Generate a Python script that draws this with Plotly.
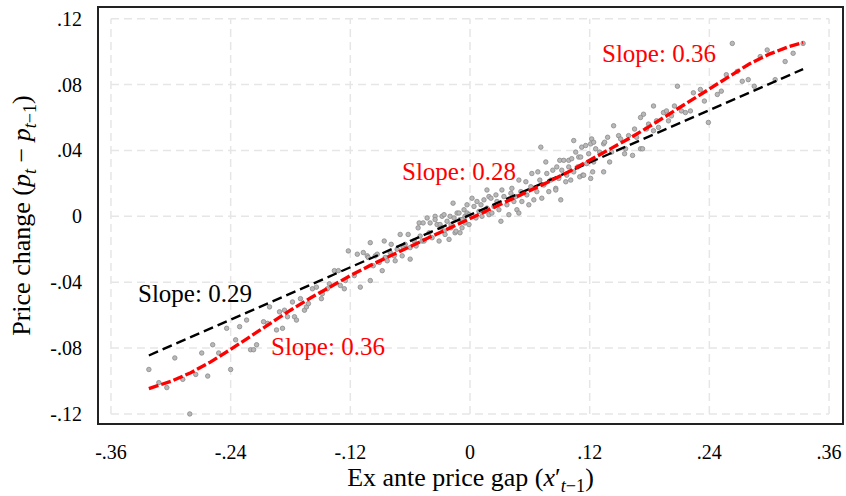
import plotly.graph_objects as go

# ---------------- data ----------------
# scatter observations: (ex ante price gap, price change)
obs_pairs = [
    (-0.322, -0.093), (-0.312, -0.101), (-0.304, -0.104), (-0.296, -0.086), (-0.288, -0.099),
    (-0.281, -0.120), (-0.275, -0.096), (-0.269, -0.083), (-0.263, -0.097), (-0.258, -0.078),
    (-0.252, -0.083), (-0.244, -0.068), (-0.240, -0.093), (-0.235, -0.075), (-0.231, -0.067),
    (-0.224, -0.063), (-0.220, -0.081), (-0.217, -0.081), (-0.214, -0.078), (-0.207, -0.064),
    (-0.203, -0.065), (-0.201, -0.055), (-0.194, -0.069), (-0.191, -0.058), (-0.188, -0.068),
    (-0.186, -0.057), (-0.183, -0.061), (-0.178, -0.052), (-0.176, -0.061), (-0.174, -0.063),
    (-0.170, -0.050), (-0.166, -0.057), (-0.164, -0.055), (-0.162, -0.053), (-0.158, -0.044),
    (-0.154, -0.043), (-0.149, -0.050), (-0.148, -0.047), (-0.143, -0.044), (-0.141, -0.041),
    # central region, left half
    (-0.136, -0.033), (-0.132, -0.033), (-0.130, -0.042), (-0.126, -0.044), (-0.125, -0.039),
    (-0.122, -0.021), (-0.116, -0.036), (-0.113, -0.023), (-0.110, -0.043), (-0.107, -0.022),
    (-0.103, -0.024), (-0.102, -0.025), (-0.100, -0.039), (-0.100, -0.016), (-0.097, -0.030),
    (-0.095, -0.024), (-0.093, -0.023), (-0.091, -0.028), (-0.088, -0.033), (-0.086, -0.015),
    (-0.085, -0.025), (-0.083, -0.027), (-0.080, -0.022), (-0.079, -0.017), (-0.076, -0.024),
    (-0.075, -0.027), (-0.073, -0.020), (-0.070, -0.011), (-0.068, -0.024), (-0.067, -0.019),
    (-0.065, -0.017), (-0.062, -0.011), (-0.060, -0.026), (-0.060, -0.019), (-0.056, -0.015),
    (-0.054, -0.018), (-0.052, -0.007), (-0.051, -0.004), (-0.050, -0.012), (-0.048, -0.015),
    (-0.047, -0.004), (-0.046, -0.015), (-0.043, -0.001), (-0.041, -0.010), (-0.040, -0.004),
    (-0.038, -0.013), (-0.035, 0.000), (-0.035, -0.002), (-0.033, -0.005), (-0.031, -0.015),
    (-0.030, -0.005), (-0.029, -0.007), (-0.028, 0.000), (-0.026, 0.001), (-0.026, -0.009),
    (-0.025, -0.011), (-0.023, -0.003), (-0.021, -0.014), (-0.020, 0.000), (-0.019, -0.007),
    (-0.019, -0.005), (-0.017, 0.008), (-0.016, -0.001), (-0.015, -0.010), (-0.014, -0.009),
    (-0.013, 0.002), (-0.011, 0.002), (-0.010, -0.010), (-0.010, -0.002), (-0.008, -0.002),
    (-0.008, -0.007), (-0.006, 0.004), (-0.005, -0.004), (-0.005, 0.000), (-0.003, 0.007),
    (-0.003, 0.002), (-0.001, 0.001), (-0.001, -0.005),
    # central region, right half
    (0.002, 0.011), (0.004, 0.006), (0.006, -0.001), (0.007, 0.009), (0.009, 0.003),
    (0.011, 0.007), (0.012, 0.000), (0.014, 0.010), (0.015, 0.003), (0.017, 0.005),
    (0.017, 0.016), (0.019, 0.001), (0.019, 0.012), (0.021, 0.011), (0.022, 0.002),
    (0.024, 0.006), (0.026, 0.013), (0.027, 0.009), (0.029, 0.004), (0.031, -0.003),
    (0.032, 0.016), (0.034, 0.012), (0.037, 0.007), (0.039, 0.001), (0.041, 0.014),
    (0.042, 0.017), (0.044, 0.009), (0.046, 0.012), (0.047, 0.004), (0.049, 0.022),
    (0.049, 0.002), (0.051, 0.015), (0.052, 0.009), (0.056, 0.021), (0.057, 0.013),
    (0.059, 0.007), (0.061, 0.018), (0.062, 0.026), (0.064, 0.010), (0.067, 0.015),
    (0.068, 0.027), (0.070, 0.022), (0.071, 0.042), (0.072, 0.011), (0.074, 0.019),
    (0.076, 0.033), (0.077, 0.026), (0.079, 0.015), (0.081, 0.022), (0.083, 0.028),
    (0.086, 0.017), (0.086, 0.016), (0.087, 0.030), (0.089, 0.023), (0.090, 0.034),
    (0.091, 0.010), (0.092, 0.028), (0.094, 0.034), (0.096, 0.021), (0.097, 0.025),
    (0.099, 0.030), (0.099, 0.034), (0.101, 0.022), (0.102, 0.035), (0.104, 0.027),
    (0.104, 0.046), (0.106, 0.039), (0.108, 0.030), (0.109, 0.036), (0.110, 0.024),
    (0.111, 0.036), (0.112, 0.042), (0.113, 0.025), (0.114, 0.025), (0.116, 0.043),
    (0.117, 0.032), (0.119, 0.038), (0.121, 0.044), (0.121, 0.023), (0.122, 0.047),
    (0.123, 0.027), (0.124, 0.033), (0.124, 0.045), (0.126, 0.041),
    # upper right
    (0.130, 0.039), (0.134, 0.027), (0.134, 0.044), (0.135, 0.045), (0.138, 0.048),
    (0.140, 0.033), (0.142, 0.039), (0.144, 0.055), (0.149, 0.049), (0.151, 0.047),
    (0.155, 0.038), (0.156, 0.041), (0.159, 0.049), (0.163, 0.037), (0.165, 0.053),
    (0.167, 0.048), (0.171, 0.060), (0.171, 0.041), (0.173, 0.041), (0.174, 0.062),
    (0.177, 0.053), (0.179, 0.056), (0.184, 0.052), (0.184, 0.067), (0.187, 0.058),
    (0.189, 0.054), (0.194, 0.063), (0.197, 0.064), (0.199, 0.058), (0.202, 0.061),
    (0.205, 0.067), (0.208, 0.079), (0.212, 0.064), (0.216, 0.063), (0.221, 0.064),
    (0.224, 0.075), (0.231, 0.077), (0.235, 0.070), (0.239, 0.057), (0.248, 0.074),
    (0.252, 0.076), (0.257, 0.086), (0.263, 0.105), (0.268, 0.088), (0.273, 0.082),
    (0.279, 0.083), (0.285, 0.079), (0.291, 0.097), (0.298, 0.101), (0.306, 0.083),
    (0.316, 0.094), (0.324, 0.099), (0.334, 0.105),
]

# linear fit (black dashed)
linear_x = [-0.322, 0.334]
linear_y = [-0.0845, 0.0894]

# nonlinear fit (red dashed)
curve_x = [-0.322, -0.300, -0.280, -0.260, -0.240, -0.220, -0.200, -0.180, -0.160,
           -0.140, -0.120, -0.100, -0.080, -0.060, -0.040, -0.020, 0.000,
           0.020, 0.040, 0.060, 0.080, 0.100, 0.120, 0.140, 0.160, 0.180,
           0.200, 0.220, 0.240, 0.260, 0.280, 0.300, 0.320, 0.334]
curve_y = [-0.1046, -0.1002, -0.0950, -0.0884, -0.0808, -0.0728, -0.0648, -0.0570, -0.0496,
           -0.0426, -0.0360, -0.0298, -0.0239, -0.0182, -0.0126, -0.0070, -0.0014,
           0.0042, 0.0098, 0.0155, 0.0213, 0.0274, 0.0339, 0.0405, 0.0474, 0.0546,
           0.0622, 0.0700, 0.0779, 0.0855, 0.0925, 0.0985, 0.1031, 0.1055]

x_tick_vals = [-0.36, -0.24, -0.12, 0.0, 0.12, 0.24, 0.36]
x_tick_text = ["-.36", "-.24", "-.12", "0", ".12", ".24", ".36"]
y_tick_vals = [-0.12, -0.08, -0.04, 0.0, 0.04, 0.08, 0.12]
y_tick_text = ["-.12", "-.08", "-.04", "0", ".04", ".08", ".12"]

slope_labels = ["Slope: 0.29", "Slope: 0.36", "Slope: 0.28", "Slope: 0.36"]
slope_label_x = [-0.335, -0.202, -0.070, 0.130]
slope_label_y = [-0.047, -0.079, 0.027, 0.099]
slope_label_color = ["black", "red", "red", "red"]

# ---------------- figure ----------------
FONT = "Liberation Serif, DejaVu Serif, serif"

obs_x = [p[0] for p in obs_pairs]
obs_y = [p[1] for p in obs_pairs]

fig = go.Figure()
fig.add_trace(go.Scatter(
    x=obs_x, y=obs_y, mode="markers",
    marker=dict(size=4.5, color="#b8b8b8", line=dict(color="#8a8a8a", width=0.8)),
    showlegend=False, hoverinfo="skip"))
fig.add_trace(go.Scatter(
    x=linear_x, y=linear_y, mode="lines",
    line=dict(color="black", width=2.4, dash="10px,5px"),
    showlegend=False))
fig.add_trace(go.Scatter(
    x=curve_x, y=curve_y, mode="lines",
    line=dict(color="#ff0000", width=3.4, dash="10px,3px"),
    showlegend=False))

# dashed grid confined to the tick range
shapes = []
for v in x_tick_vals:
    shapes.append(dict(type="line", xref="x", yref="y", x0=v, x1=v,
                       y0=y_tick_vals[0], y1=y_tick_vals[-1], layer="below",
                       line=dict(color="#e6e6e6", width=1.5, dash="8px,5px")))
for v in y_tick_vals:
    shapes.append(dict(type="line", xref="x", yref="y", y0=v, y1=v,
                       x0=x_tick_vals[0], x1=x_tick_vals[-1], layer="below",
                       line=dict(color="#e6e6e6", width=1.5, dash="8px,5px")))

annotations = []
for t, ax_, ay_, c in zip(slope_labels, slope_label_x, slope_label_y, slope_label_color):
    annotations.append(dict(x=ax_, y=ay_, xref="x", yref="y", text=t, showarrow=False,
                            xanchor="left", yanchor="middle",
                            font=dict(family=FONT, size=25, color=c)))

fig.update_layout(
    width=846, height=496,
    margin=dict(l=99, r=4, t=8, b=73),
    paper_bgcolor="white", plot_bgcolor="white",
    font=dict(family=FONT, size=20, color="black"),
    shapes=shapes, annotations=annotations,
    xaxis=dict(range=[-0.372, 0.373], tickvals=x_tick_vals, ticktext=x_tick_text,
               showgrid=False, zeroline=False, showline=True, mirror=True,
               linecolor="#222", linewidth=2, ticks="", ticklabelstandoff=10,
               automargin=False,
               tickfont=dict(family=FONT, size=20),
               title=dict(text="Ex ante price gap (<i>x</i>′<sub><i>t</i>−1</sub>)",
                          font=dict(family=FONT, size=26), standoff=6)),
    yaxis=dict(range=[-0.1255, 0.1265], tickvals=y_tick_vals, ticktext=y_tick_text,
               showgrid=False, zeroline=False, showline=True, mirror=True,
               linecolor="#222", linewidth=2, ticks="", ticklabelstandoff=11,
               automargin=False,
               tickfont=dict(family=FONT, size=20),
               title=dict(text="Price change (<i>p<sub>t</sub></i> − <i>p</i><sub><i>t</i>−1</sub>)",
                          font=dict(family=FONT, size=26), standoff=12)),
)

# remove the default page margin so the figure sits at the window's corner
fig.write_html("out.html",
               config={"displayModeBar": False},
               post_script="document.body.style.margin='0';document.body.style.padding='0';")
